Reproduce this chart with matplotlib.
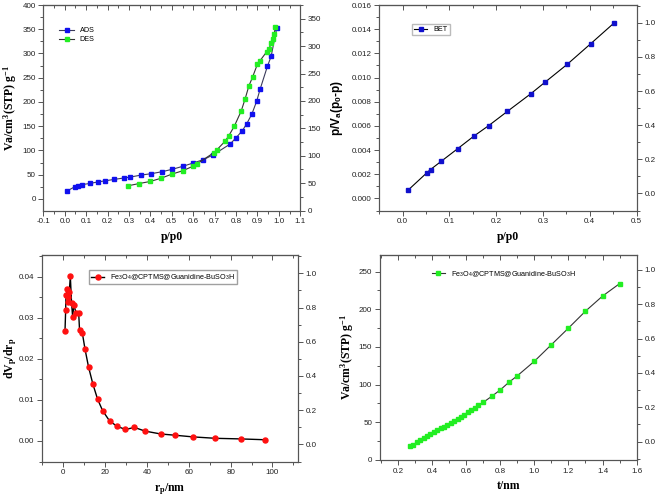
import matplotlib
matplotlib.use("Agg")
import matplotlib.pyplot as plt
from matplotlib.ticker import MultipleLocator, AutoMinorLocator

plt.rcParams['font.family'] = ['Liberation Sans', 'DejaVu Sans']
plt.rcParams['mathtext.fontset'] = 'custom'
plt.rcParams['mathtext.rm'] = 'Liberation Serif:bold'
plt.rcParams['mathtext.it'] = 'Liberation Serif:bold'
plt.rcParams['mathtext.bf'] = 'Liberation Serif:bold'

# ---- Panel 1: adsorption / desorption isotherm ----
ads_x = [0.0115, 0.047, 0.06, 0.082, 0.12, 0.155, 0.186, 0.228, 0.275, 0.307, 0.355,
         0.405, 0.454, 0.502, 0.55, 0.60, 0.648, 0.694, 0.772, 0.80, 0.83, 0.85,
         0.874, 0.896, 0.913, 0.947, 0.964, 0.99]
ads_y = [16.5, 25, 27.5, 29.5, 32, 35, 37, 40, 43, 45, 49, 52, 56, 61, 67, 74, 81, 91,
         113, 126, 141, 155, 175, 201, 227, 274, 294, 352]
des_x = [0.296, 0.347, 0.40, 0.45, 0.50, 0.551, 0.597, 0.617, 0.697, 0.71, 0.749, 0.766,
         0.792, 0.824, 0.843, 0.86, 0.877, 0.90, 0.912, 0.944, 0.953, 0.965, 0.972,
         0.978, 0.984]
des_y = [27, 31.6, 36, 42.6, 51, 58, 67, 72, 95.5, 101, 119, 130, 150, 181, 207, 233,
         251, 278, 285, 304, 309, 321, 329, 340, 355]

# ---- Panel 2: BET plot ----
bet_x = [0.0121, 0.052, 0.0598, 0.083, 0.118, 0.153, 0.184, 0.224, 0.274, 0.304,
         0.352, 0.402, 0.452]
bet_y = [0.00069, 0.00212, 0.00239, 0.00308, 0.00412, 0.00517, 0.00602, 0.0072,
         0.00866, 0.0096, 0.0111, 0.0128, 0.01452]

# ---- Panel 3: BJH pore size distribution ----
bjh_r = [0.95, 1.27, 1.43, 2.06, 2.3, 2.6, 3.0, 3.5, 4.1, 4.6, 5.2, 6.3, 7.5, 7.9, 9.2,
         10.5, 12.2, 14.3, 16.5, 18.9, 22.2, 25.7, 29.8, 34.1, 39.2, 46.7, 53.5, 61.9,
         72.7, 84.9, 96.3]
bjh_dv = [0.0267, 0.0318, 0.0355, 0.0369, 0.0351, 0.0338, 0.0364, 0.0401, 0.0335,
          0.0303, 0.0331, 0.0311, 0.0311, 0.0270, 0.0264, 0.0224, 0.0180, 0.0138,
          0.0102, 0.0074, 0.0049, 0.0036, 0.0028, 0.0033, 0.0024, 0.0017, 0.0014,
          0.0010, 0.00065, 0.0005, 0.0003]

# ---- Panel 4: t-plot ----
t_x = [0.27, 0.29, 0.31, 0.33, 0.35, 0.37, 0.39, 0.41, 0.43, 0.45, 0.47, 0.49, 0.51,
       0.53, 0.55, 0.57, 0.59, 0.61, 0.63, 0.65, 0.67, 0.70, 0.75, 0.80, 0.85, 0.90,
       1.0, 1.1, 1.2, 1.3, 1.4, 1.5]
t_y = [18.2, 20.5, 23.3, 26.0, 28.7, 31.3, 34.0, 36.6, 39.3, 41.8, 44.3, 46.8, 49.4,
       52.0, 54.7, 57.4, 60.3, 63.3, 66.4, 69.6, 72.8, 76.5, 84.5, 93, 103, 111.7,
       131, 153, 175, 197.5, 217.5, 234]

legend_label = r'Fe$_\mathregular{3}$O$_\mathregular{4}$@CPTMS@Guanidine-BuSO$_\mathregular{3}$H'

fig = plt.figure(figsize=(6.57, 5.0), dpi=100)

spine_c = '#555555'
TICK_FS = 5.8
LAB_FS = 8.5


def style(ax, xmaj, ymaj, rlim, rmaj):
    for s in ax.spines.values():
        s.set_color(spine_c)
        s.set_linewidth(0.8)
    ax.xaxis.set_major_locator(MultipleLocator(xmaj))
    ax.yaxis.set_major_locator(MultipleLocator(ymaj))
    ax.xaxis.set_minor_locator(AutoMinorLocator(2))
    ax.yaxis.set_minor_locator(AutoMinorLocator(2))
    ax.tick_params(which='both', direction='out', colors=spine_c, labelcolor='#222222',
                   labelsize=TICK_FS, width=0.7, top=False, pad=2)
    ax.tick_params(which='major', length=3.5)
    ax.tick_params(which='minor', length=2)
    sec = ax.secondary_xaxis('top')
    sec.xaxis.set_major_locator(MultipleLocator(xmaj))
    sec.xaxis.set_minor_locator(AutoMinorLocator(2))
    sec.tick_params(which='both', direction='in', colors=spine_c, labeltop=False, width=0.7)
    sec.tick_params(which='major', length=3.5)
    sec.tick_params(which='minor', length=2)
    sec.spines['top'].set_color(spine_c)
    tw = ax.twinx()
    tw.set_ylim(*rlim)
    tw.yaxis.set_major_locator(MultipleLocator(rmaj))
    tw.yaxis.set_minor_locator(AutoMinorLocator(2))
    tw.tick_params(which='both', direction='out', colors=spine_c, labelcolor='#222222',
                   labelsize=TICK_FS, width=0.7, pad=2)
    tw.tick_params(which='major', length=3.5)
    tw.tick_params(which='minor', length=2)
    for s in tw.spines.values():
        s.set_color(spine_c)
        s.set_linewidth(0.8)
    return tw


serif_bold = dict(family='Liberation Serif', fontweight='bold', fontsize=LAB_FS)

# Panel 1
ax1 = fig.add_axes([0.066, 0.579, 0.391, 0.411])
ax1.plot(ads_x, ads_y, '-s', color='#3a3a5a', lw=0.8, mfc='#1010ee', mec='#1010ee',
         ms=3.2, label='ADS')
ax1.plot(des_x, des_y, '-s', color='#333333', lw=0.8, mfc='#22ee22', mec='#22ee22',
         ms=3.2, label='DES')
ax1.set_xlim(-0.1, 1.1)
ax1.set_ylim(-24, 400)
style(ax1, 0.1, 50, (0, 375), 50)
ax1.xaxis.set_major_formatter(plt.FuncFormatter(lambda v, p: f'{v:.1f}'))
ax1.set_xlabel('p/p0', labelpad=4, **serif_bold)
ax1.set_ylabel(r'Va/cm$^\mathregular{3}$(STP) g$^\mathregular{-1}$', **serif_bold)
ax1.yaxis.set_label_coords(-0.095, 0.5)
ax1.legend(loc='upper left', bbox_to_anchor=(0.04, 0.92), fontsize=5.2,
           frameon=False, handlelength=2.0, labelspacing=0.3, borderpad=0.3)

# Panel 2
ax2 = fig.add_axes([0.577, 0.579, 0.392, 0.411])
ax2.plot(bet_x, bet_y, '-s', color='black', lw=0.8, mfc='#1010cc', mec='#1010cc',
         ms=3.0, label='BET')
ax2.set_xlim(-0.05, 0.5)
ax2.set_ylim(-0.001, 0.016)
style(ax2, 0.1, 0.002, (-0.1, 1.104), 0.2)
ax2.xaxis.set_major_formatter(plt.FuncFormatter(lambda v, p: f'{v:.1f}'))
ax2.yaxis.set_major_formatter(plt.FuncFormatter(lambda v, p: f'{v:.3f}'))
ax2.set_xlabel('p/p0', labelpad=4, **serif_bold)
ax2.set_ylabel(r'p/V$_\mathregular{a}$(p$_\mathregular{0}$-p)',
               family='Liberation Sans', fontweight='bold', fontsize=LAB_FS)
ax2.yaxis.set_label_coords(-0.132, 0.5)
ax2.legend(loc='upper left', bbox_to_anchor=(0.115, 0.925), fontsize=5.2,
           frameon=True, fancybox=False, edgecolor='#aaaaaa', handlelength=1.8,
           borderpad=0.3)

# Panel 3
ax3 = fig.add_axes([0.064, 0.077, 0.389, 0.413])
ax3.plot(bjh_r, bjh_dv, '-o', color='black', lw=1.0, mfc='#ff1010', mec='#ff1010',
         ms=3.6, label=legend_label)
ax3.set_xlim(-10, 112)
ax3.set_ylim(-0.005, 0.0453)
style(ax3, 20, 0.01, (-0.1, 1.107), 0.2)
ax3.yaxis.set_major_formatter(plt.FuncFormatter(lambda v, p: f'{v:.2f}'))
ax3.set_xlabel(r'r$_\mathregular{p}$/nm', labelpad=4, **serif_bold)
ax3.set_ylabel(r'dV$_\mathregular{p}$/dr$_\mathregular{p}$', **serif_bold)
ax3.yaxis.set_label_coords(-0.09, 0.5)
ax3.legend(loc='upper left', bbox_to_anchor=(0.17, 0.945), fontsize=5.2,
           frameon=True, fancybox=False, edgecolor='#888888', handlelength=1.8,
           borderpad=0.3)

# Panel 4
ax4 = fig.add_axes([0.578, 0.08, 0.391, 0.41])
ax4.plot(t_x, t_y, '-s', color='#333333', lw=0.8, mfc='#22ee22', mec='#22ee22',
         ms=3.4, label=legend_label)
ax4.set_xlim(0.093, 1.6)
ax4.set_ylim(0, 272)
style(ax4, 0.2, 50, (-0.107, 1.087), 0.2)
ax4.xaxis.set_major_formatter(plt.FuncFormatter(lambda v, p: f'{v:.1f}'))
ax4.set_xlabel('t/nm', labelpad=4, **serif_bold)
ax4.set_ylabel(r'Va/cm$^\mathregular{3}$(STP) g$^\mathregular{-1}$', **serif_bold)
ax4.yaxis.set_label_coords(-0.093, 0.5)
ax4.legend(loc='upper left', bbox_to_anchor=(0.18, 0.96), fontsize=5.2,
           frameon=False, handlelength=1.8, borderpad=0.3)

fig.savefig('out.png', dpi=100)
